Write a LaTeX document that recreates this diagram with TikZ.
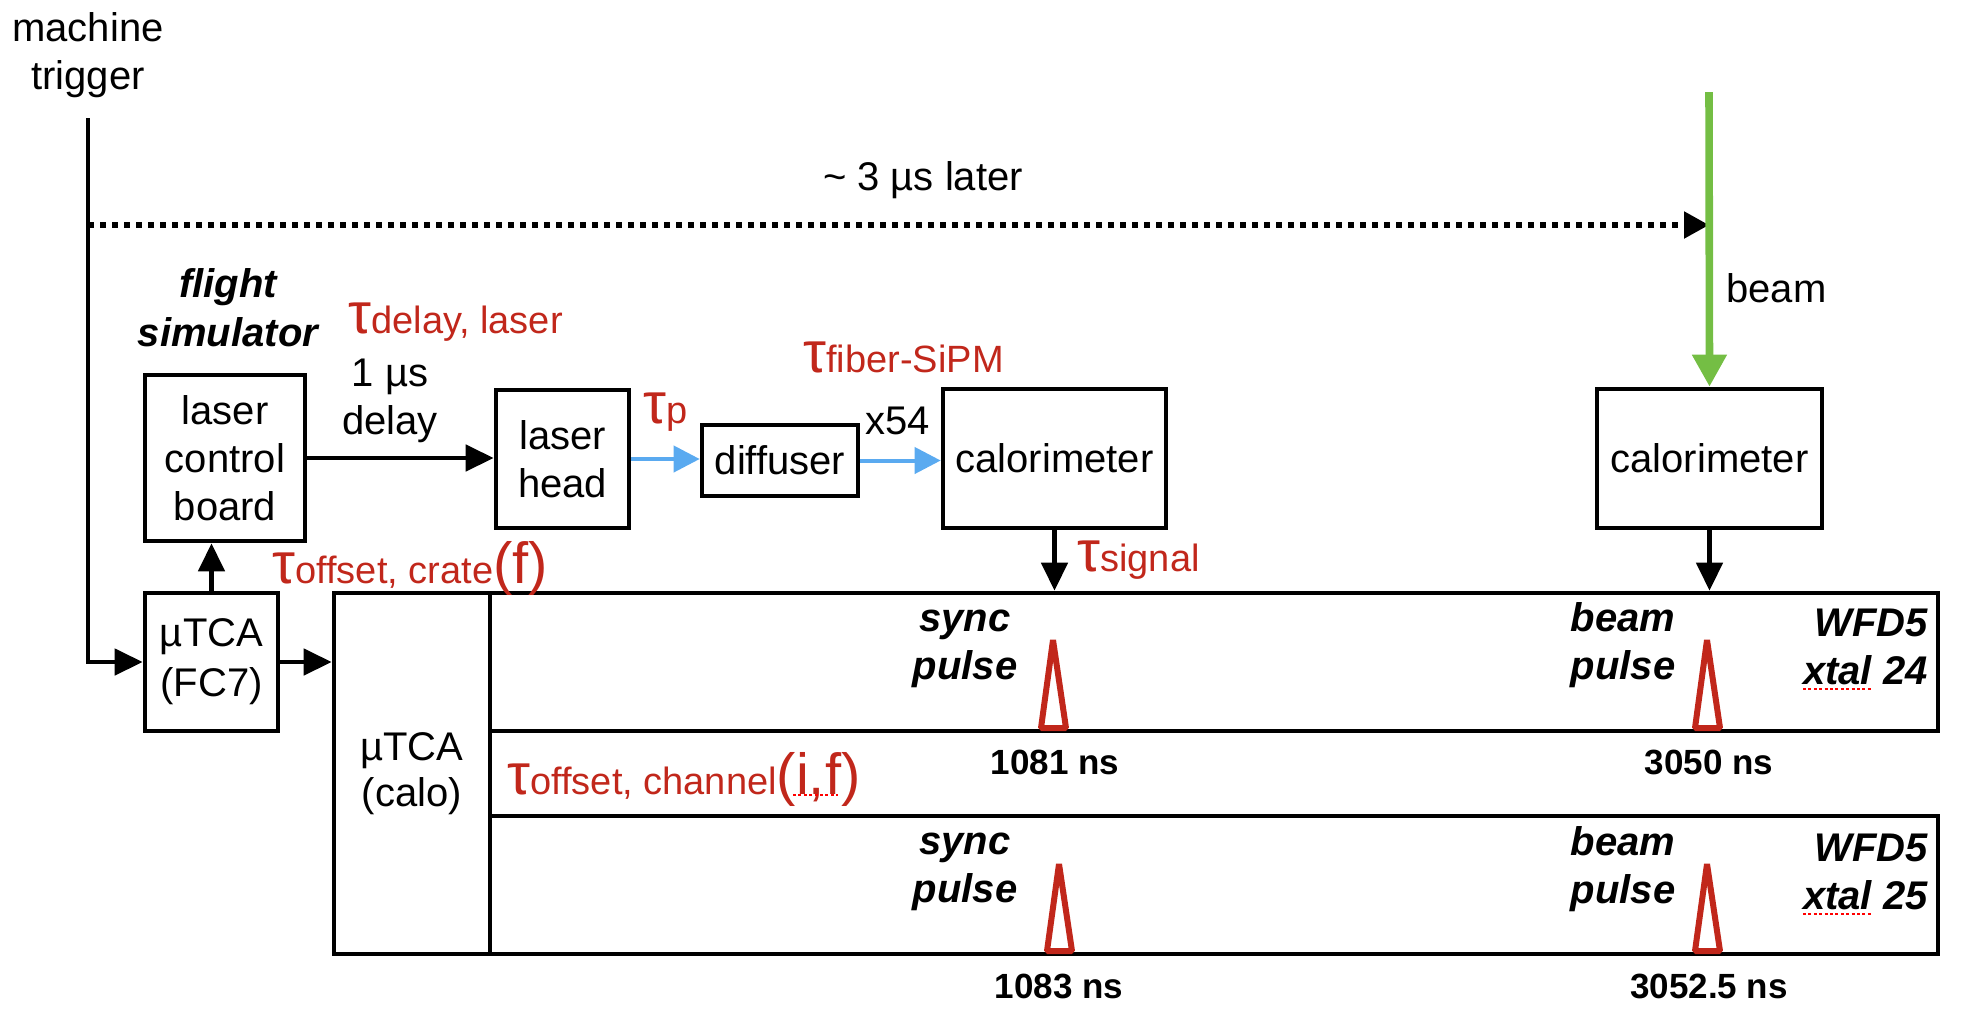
\documentclass[tikz,border=0pt]{standalone}
\usepackage{fontspec}
\setmainfont{Liberation Sans}
\usetikzlibrary{arrows.meta}
\definecolor{tred}{RGB}{193,39,27}
\definecolor{tblue}{RGB}{90,170,240}
\definecolor{tgreen}{RGB}{116,190,68}
\newcommand{\tbig}{\fontsize{29}{31}\selectfont}
\newcommand{\tsmall}{\fontsize{19}{21}\selectfont}
\begin{document}
\begin{tikzpicture}[x=0.5pt,y=-0.5pt,
  box/.style={draw, line width=2.3pt, inner sep=0pt, align=center, font=\fontsize{20}{24}\selectfont},
  arr/.style={line width=2.3pt, -{Triangle[length=14pt,width=13pt]}},
  barr/.style={line width=2pt, draw=tblue, -{Triangle[length=13pt,width=13pt,fill=tblue]}},
  garr/.style={line width=3.8pt, draw=tgreen, -{Triangle[length=16pt,width=16.5pt,fill=tgreen]}},
  dotarr/.style={line width=2.6pt, dash pattern=on 3pt off 3pt, -{Triangle[length=12.5pt,width=13pt]}},
  lbl/.style={inner sep=0pt, font=\fontsize{20}{24}\selectfont},
  bi/.style={inner sep=0pt, font=\fontsize{20}{24}\selectfont\bfseries\itshape},
  num/.style={inner sep=0pt, anchor=base, font=\fontsize{17.5}{21}\selectfont\bfseries},
  tau/.style={inner sep=0pt, anchor=base west, text=tred},
  pulse/.style={draw=tred, fill=white, line width=3pt, line join=bevel},
  spell/.style={draw=red, line width=1.2pt, dash pattern=on 1.5pt off 1.2pt}
]
\useasboundingbox (0,0) rectangle (1964,1024);

% boxes
\node[box, minimum width=80pt, minimum height=83pt] (lcb) at (225,458) {laser\\control\\board};
\node[box, minimum width=66.5pt, minimum height=69pt] (lh) at (562.5,459) {laser\\head};
\node[box, minimum width=78pt, minimum height=35.5pt] (diff) at (780,460.5) {diffuser};
\node[box, minimum width=111.5pt, minimum height=69.5pt] (cal1) at (1054.5,458.5) {calorimeter};
\node[box, minimum width=112.5pt, minimum height=69.5pt] (cal2) at (1709.5,458.5) {calorimeter};
\node[box, minimum width=66.5pt, minimum height=69pt, font=\fontsize{20}{25}\selectfont] (fc7) at (211.5,662) {µTCA\\(FC7)};
\node[box, minimum width=78pt, minimum height=180.5pt, font=\fontsize{20}{23}\selectfont] (calo) at (412,773.5) {µTCA\\(calo)};
\node[box, minimum width=724pt, minimum height=69pt] (wfd1) at (1214,662) {};
\node[box, minimum width=724pt, minimum height=69pt] (wfd2) at (1214,885) {};

% connectors
\coordinate (trigtop) at (88,118);
\coordinate (dotstart) at (88,225);
\coordinate (beamtop) at (1709,92);
\coordinate (dotend) at (1709,225);
\draw[arr] (trigtop) |- (fc7.west);
\draw[dotarr] (dotstart) -- (dotend);
\draw[garr] (beamtop) -- (cal2.north);
\draw[arr] (fc7.north) -- (fc7.north |- lcb.south);
\draw[arr] (lcb.east) -- (lcb.east -| lh.west);
\draw[barr] (lh.east) -- (lh.east -| diff.west);
\draw[barr] (diff.east) -- (diff.east -| cal1.west);
\draw[arr] (fc7.east) -- (fc7.east -| calo.west);
\draw[arr] (cal1.south) -- (cal1.south |- wfd1.north);
\draw[arr] (cal2.south) -- (cal2.south |- wfd1.north);

% pulses
\draw[pulse] (1041,728) -- (1053,640) -- (1066,728) -- cycle;
\draw[pulse] (1695,728) -- (1707,640) -- (1720,728) -- cycle;
\draw[pulse] (1047,951) -- (1059,864) -- (1072,951) -- cycle;
\draw[pulse] (1695,951) -- (1707,864) -- (1720,951) -- cycle;

% labels
\node[lbl, align=center] (mt) at (88,55.5) {machine\\trigger};
\node[lbl, anchor=base] (later) at (923,190) {\textasciitilde{} 3 µs later};
\node[bi, align=center, font=\fontsize{20}{24.5}\selectfont\bfseries\itshape] (fs) at (228,308) {flight\\simulator};
\node[lbl, align=center] (dl) at (390,401) {1 µs\\delay};
\node[lbl, anchor=base west] (x54) at (865,434) {x54};
\node[lbl, anchor=base west] (beam) at (1726,302) {beam};

\node[tau] (tdl) at (348,333) {{\tbig τ}{\tsmall delay, laser}};
\node[tau] (tp) at (643,423) {{\tbig τ}{\tsmall p}};
\node[tau] (tfs) at (803,372) {{\tbig τ}{\tsmall fiber-SiPM}};
\node[tau] (tsig) at (1077,571) {{\tbig τ}{\tsmall signal}};
\node[tau] (toc) at (272,583) {{\tbig τ}{\tsmall offset, crate}{\tbig (f)}};
\node[tau] (toch) at (507,794) {{\tbig τ}{\tsmall offset, channel}{\tbig (i,f)}};

\node[bi, align=center] (sp1) at (965,648.5) {sync\\pulse};
\node[bi, align=center] (sp2) at (965,871.5) {sync\\pulse};
\node[bi, align=center] (bp1) at (1623,645.5) {beam\\pulse};
\node[bi, align=center] (bp2) at (1623,869) {beam\\pulse};
\node[bi, align=right, anchor=east] (w1) at (1928,646.5) {WFD5\\xtal 24};
\node[bi, align=right, anchor=east] (w2) at (1928,871.5) {WFD5\\xtal 25};

\node[num] (n1) at (1055,774) {1081 ns};
\node[num] (n2) at (1709,774) {3050 ns};
\node[num] (n3) at (1059,998) {1083 ns};
\node[num] (n4) at (1709,998) {3052.5 ns};

% spell-check underlines
\draw[spell] (1803,689) -- (1872,689);
\draw[spell] (1803,914) -- (1872,914);
\draw[spell] (793,795) -- (838,795);
\end{tikzpicture}
\end{document}
